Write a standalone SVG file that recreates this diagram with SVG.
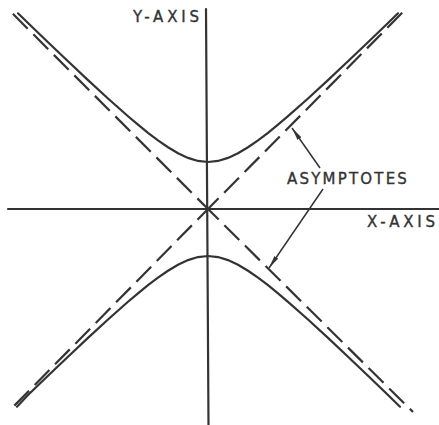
<svg xmlns="http://www.w3.org/2000/svg" width="439" height="425" viewBox="0 0 439 425">
  <style>
    .ln { stroke: #333; stroke-width: 2.2; fill: none; stroke-linecap: round; }
    .dash { stroke: #333; stroke-width: 2.2; fill: none; stroke-dasharray: 21 8; stroke-dashoffset: 6; }
    .conn { stroke: #333; stroke-width: 1.5; fill: none; }
    .lbl { font-family: "DejaVu Sans", "Liberation Sans", sans-serif; font-size: 15px; fill: #333; stroke: #333; stroke-width: 0.35; }
  </style>
  <defs>
    <marker id="arrow" viewBox="0 0 13 6" refX="13" refY="3" markerWidth="13" markerHeight="6" markerUnits="userSpaceOnUse" orient="auto">
      <path d="M0,0.7 L13,3 L0,5.3 Z" fill="#333"/>
    </marker>
  </defs>
  <rect width="439" height="425" fill="#fff"/>

  <g id="y-axis">
    <line class="ln" x1="206" y1="9" x2="208.5" y2="425"/>
    <text class="lbl" x="133" y="22" letter-spacing="3.8">Y-AXIS</text>
  </g>
  <g id="x-axis">
    <line class="ln" x1="8" y1="209" x2="439" y2="209"/>
    <text class="lbl" x="367" y="227" letter-spacing="3.8">X-AXIS</text>
  </g>

  <g id="asymptotes">
    <path class="dash" d="M208,209 L12,13"/>
    <path class="dash" d="M208,209 L413,412"/>
    <path class="dash" d="M208,209 L403,12"/>
    <path class="dash" d="M208,209 L13,407"/>
  </g>

  <g id="hyperbola-upper">
    <polyline class="ln" points="18,13.3 28,22.96 48,42.24 68,61.32 88,80.12 108,98.51 128,116.21 138,124.68 148,132.78 158,140.38 168,147.28 178,153.24 188,157.92 198,160.95 208,162 218,160.95 228,157.92 238,153.24 248,147.28 258,140.38 268,132.78 278,124.68 288,116.21 308,98.51 328,80.12 348,61.32 368,42.24 388,22.96 398,13.3"/>
  </g>
  <g id="hyperbola-lower">
    <polyline class="ln" points="17,406.7 28,395.04 48,375.76 68,356.68 88,337.88 108,319.49 128,301.79 138,293.32 148,285.22 158,277.62 168,270.72 178,264.76 188,260.08 198,257.05 208,256 218,257.05 228,260.08 238,264.76 248,270.72 258,277.62 268,285.22 278,293.32 288,301.79 308,319.49 328,337.88 348,356.68 368,375.76 388,395.04 400,406.7"/>
  </g>

  <g id="label-asymptotes">
    <text class="lbl" x="287" y="184" letter-spacing="2.2">ASYMPTOTES</text>
  </g>

  <g id="connectors">
    <line class="conn" x1="320" y1="168" x2="292" y2="128" marker-end="url(#arrow)"/>
    <line class="conn" x1="323" y1="189" x2="269" y2="268" marker-end="url(#arrow)"/>
  </g>
</svg>
